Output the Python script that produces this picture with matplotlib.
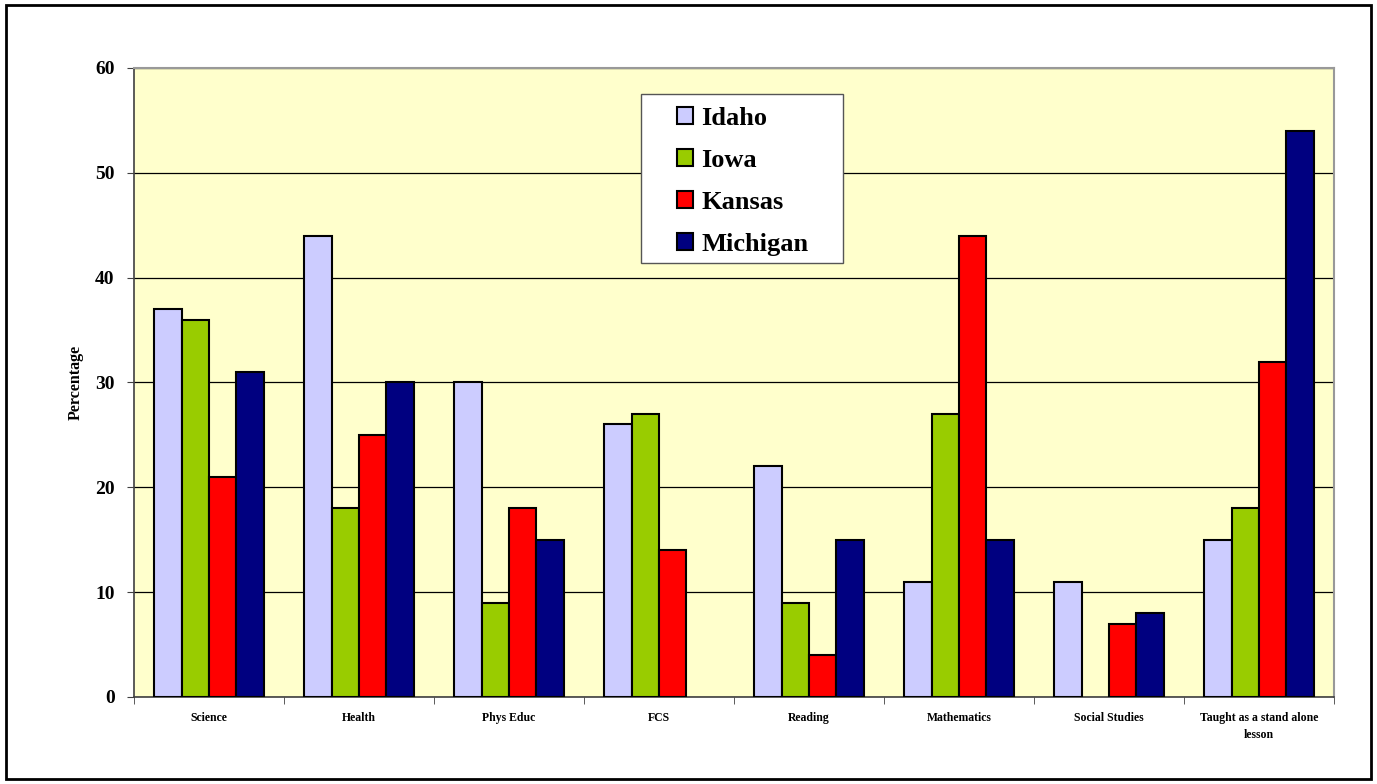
import matplotlib.pyplot as plt
import numpy as np
from matplotlib.patches import Rectangle

categories = ['Science', 'Health', 'Phys Educ', 'FCS', 'Reading',
              'Mathematics', 'Social Studies', 'Taught as a stand alone\nlesson']
idaho = [37, 44, 30, 26, 22, 11, 11, 15]
iowa = [36, 18, 9, 27, 9, 27, 0, 18]
kansas = [21, 25, 18, 14, 4, 44, 7, 32]
michigan = [31, 30, 15, 0, 15, 15, 8, 54]
states = ['Idaho', 'Iowa', 'Kansas', 'Michigan']
colors = ['#ccccff', '#99cc00', '#ff0000', '#000080']

plt.rcParams['font.family'] = ['Liberation Serif', 'DejaVu Serif']
plt.rcParams['font.weight'] = 'bold'

fig = plt.figure(figsize=(13.77, 7.84), dpi=100)
fig.patches.append(Rectangle((0.004, 0.006), 0.992, 0.988, transform=fig.transFigure,
                             fill=False, edgecolor='black', linewidth=2))
ax = fig.add_axes([0.0973, 0.111, 0.8715, 0.8023])
ax.set_facecolor('#ffffcc')

x = np.arange(len(categories))
w = 0.183
for j, (vals, name, c) in enumerate(zip([idaho, iowa, kansas, michigan], states, colors)):
    vals = np.array(vals, dtype=float)
    mask = vals > 0
    ax.bar(x[mask] + (j - 1.5) * w, vals[mask], w, color=c, edgecolor='black',
           linewidth=1.5, label=name, zorder=3)

ax.set_xlim(-0.5, len(categories) - 0.5)
ax.set_ylim(0, 60)
ax.set_yticks(range(0, 61, 10))
ax.yaxis.grid(True, color='black', linewidth=0.9, zorder=1)
ax.set_axisbelow(True)

ax.set_xticks(x)
ax.set_xticklabels(categories, fontsize=8.5, fontweight='bold', linespacing=1.5)
ax.tick_params(axis='x', which='major', length=0, pad=11)
ax.set_xticks(np.arange(-0.5, len(categories)), minor=True)
ax.tick_params(axis='x', which='minor', length=5, color='#404040')
ax.tick_params(axis='y', labelsize=14, length=5, pad=9, color='#404040')
for lab in ax.get_yticklabels():
    lab.set_fontweight('bold')

for s in ['left', 'bottom']:
    ax.spines[s].set_color('#404040')
    ax.spines[s].set_linewidth(1.2)
for s in ['top', 'right']:
    ax.spines[s].set_color('#999999')
    ax.spines[s].set_linewidth(1.5)

ax.set_ylabel('Percentage', fontsize=11.5, fontweight='bold', labelpad=8)

# legend box drawn separately so padding matches the original
ax.add_patch(Rectangle((0.4225, 0.69), 0.1683, 0.2687, transform=ax.transAxes,
                       facecolor='white', edgecolor='#555555', linewidth=1.0,
                       zorder=4))
leg = ax.legend(loc='upper left', bbox_to_anchor=(0.4525, 0.938),
                prop={'weight': 'bold', 'size': 19}, frameon=False,
                handlelength=0.62, handleheight=0.62,
                handletextpad=0.3, labelspacing=0.72, borderpad=0,
                borderaxespad=0)
leg.set_zorder(5)
for h in leg.legend_handles:
    h.set_linewidth(1.5)

fig.savefig('out.png', dpi=100)
